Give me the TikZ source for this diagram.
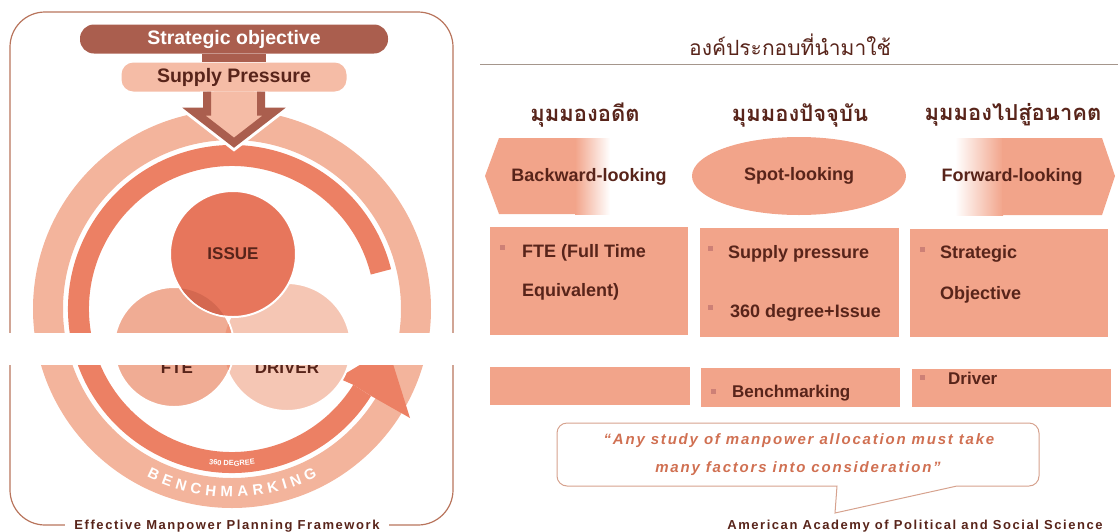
\documentclass[tikz,border=0pt]{standalone}
\usepackage{fontspec}
\usetikzlibrary{calc,shapes.geometric,decorations.text}
\setmainfont{Liberation Sans}
\newfontfamily\thaifont[Script=Thai]{Loma}
\newfontfamily\widefont[LetterSpace=12]{Liberation Sans}
\newfontfamily\spacedfont[LetterSpace=12]{Liberation Sans}
\definecolor{barbrown}{RGB}{170,94,78}
\definecolor{barpeach}{RGB}{245,188,166}
\definecolor{ringout}{RGB}{243,180,156}
\definecolor{ringin}{RGB}{236,128,100}
\definecolor{issuecol}{RGB}{231,118,92}
\definecolor{ftecol}{RGB}{240,172,148}
\definecolor{drivercol}{RGB}{245,198,180}
\definecolor{lenscol}{RGB}{238,150,122}
\definecolor{darklens}{RGB}{212,104,80}
\definecolor{salmon}{RGB}{242,164,138}
\definecolor{inkbrown}{RGB}{88,36,26}
\definecolor{quotecol}{RGB}{208,112,82}
\definecolor{bubblecol}{RGB}{214,162,142}
\definecolor{bulcol}{RGB}{205,128,118}
\definecolor{panelcol}{RGB}{184,116,92}
\definecolor{rulecol}{RGB}{165,150,140}
\def\cx{232}
\def\cy{309}
\newcommand{\bul}[2]{\fill[bulcol] (#1-2.5,#2-2.5) rectangle ++(5,5);}

\begin{document}
\begin{tikzpicture}[x=1pt,y=-1pt,
  barbox/.style={rounded corners=14, minimum height=29, inner sep=0pt, font=\fontsize{19.5}{19.5}\selectfont\bfseries},
  venn/.style={circle, inner sep=0pt, draw=white, line width=2},
  venntext/.style={font=\fontsize{17}{17}\selectfont\bfseries, text=inkbrown},
  looktext/.style={font=\fontsize{18}{18}\selectfont\bfseries, text=inkbrown},
  thaihead/.style={font=\thaifont\fontsize{22}{22}\selectfont\bfseries, text=inkbrown},
  cellbox/.style={fill=salmon, inner sep=0pt, anchor=north west},
  itemtext/.style={font=\fontsize{18}{18}\selectfont\bfseries, text=inkbrown, anchor=base west, inner sep=0pt},
  quotetext/.style={font=\widefont\fontsize{15}{15}\selectfont\bfseries\itshape, text=quotecol},
  foottext/.style={font=\spacedfont\fontsize{13}{13}\selectfont\bfseries, text=inkbrown},
]
\useasboundingbox (0,0) rectangle (1120,531);

% left panel
\draw[panelcol, line width=1.2, rounded corners=35] (10,12) rectangle (453,525);
\node[barbox, fill=barbrown, text=white, minimum width=308] (strat) at (234,39) {Strategic objective};
\node[barbox, fill=barpeach, text=inkbrown, minimum width=225, rounded corners=12] (supply) at (234,77) {Supply Pressure};
\fill[barbrown] ($(strat.south)+(-32,0)$) rectangle ($(supply.north)+(32,0)$);

\coordinate (c) at (\cx,\cy);
\draw[ringout, line width=30] (c) circle (184);
\draw[ringin, line width=21] ($(c)+(-14:153.5)$) arc[start angle=-14, end angle=-328, radius=153.5];
\fill[ringin] ($(c)+(-328:143)$) -- (338,378) -- (388,348) -- (410,418) -- ($(c)+(-328:164)$) -- cycle;
\path[decorate, decoration={text along path, text={|\fontsize{15}{15}\selectfont\bfseries\color{white}|BENCHMARKING}, text align={fit to path}}]
  ($(c)+(-243:188)$) arc[start angle=-243, end angle=-297, radius=188];
\path[decorate, decoration={text along path, text={|\fontsize{7.5}{7.5}\selectfont\bfseries\color{white}|360 DEGREE}, text align=center}]
  ($(c)+(-255:157)$) arc[start angle=-255, end angle=-285, radius=157];

\draw[white, line width=14, line join=miter] ($(supply.south)+(-27,0)$) -- ++(0,20) -- ++(-13,0) -- ($(supply.south)+(0,51)$) -- ($(supply.south)+(40,20)$) -- ++(-13,0) -- ($(supply.south)+(27,0)$);
\filldraw[fill=barpeach, draw=barbrown, line width=8, line join=miter] ($(supply.south)+(-27,0)$) -- ++(0,20) -- ++(-13,0) -- ($(supply.south)+(0,51)$) -- ($(supply.south)+(40,20)$) -- ++(-13,0) -- ($(supply.south)+(27,0)$);

\node[venn, fill=drivercol, minimum size=128] (driver) at (287,347) {};
\node[venn, fill=ftecol, minimum size=120] (fte) at (174,347) {};
\begin{scope}
  \clip (fte.center) circle (59);
  \fill[lenscol] (driver.center) circle (63);
\end{scope}
\node[venn, fill=issuecol, minimum size=126, venntext] (issue) at (233,254) {ISSUE};
\begin{scope}
  \clip (issue.center) circle (62);
  \fill[darklens] (fte.center) circle (59);
\end{scope}
\node[venntext] (ftetxt) at (177,368) {FTE};
\node[venntext] (drivertxt) at (287,368) {DRIVER};

\fill[white] (0,333) rectangle (462,365);
\node[foottext, fill=white, inner xsep=9, inner ysep=1] (frame) at (227,526) {Effective Manpower Planning Framework};

% right panel
\node[thaihead, font=\thaifont\fontsize{21}{21}\selectfont] (title) at (790,45) {องค์ประกอบที่นำมาใช้};
\draw[rulecol, line width=1] (480,64) -- (1118,64);
\node[thaihead] (hpast) at (585,115) {มุมมองอดีต};
\node[thaihead] (hnow) at (800,115) {มุมมองปัจจุบัน};
\node[thaihead] (hfut) at (1013,115) {มุมมองไปสู่อนาคต};

\fill[salmon] (499,138) -- (576,138) -- (576,214) -- (499,214) -- (485,176) -- cycle;
\shade[left color=salmon, right color=white] (575,138) rectangle (610,214);
\node[looktext] (back) at (589,177) {Backward-looking};
\node[ellipse, fill=salmon, minimum width=214, minimum height=78, inner sep=0pt, looktext] (spot) at (799,176) {Spot-looking};
\shade[left color=white, right color=salmon] (955,138) rectangle (1003,215);
\fill[salmon] (1002,138) -- (1102,138) -- (1115,176) -- (1102,215) -- (1002,215) -- cycle;
\node[looktext] (fwd) at (1012,177) {Forward-looking};

\node[cellbox, minimum width=198, minimum height=108] (pastA) at (490,227) {};
\node[cellbox, minimum width=199, minimum height=109] (nowA) at (700,228) {};
\node[cellbox, minimum width=198, minimum height=108] (futA) at (910,229) {};
\node[cellbox, minimum width=200, minimum height=38] (pastB) at (490,367) {};
\node[cellbox, minimum width=199, minimum height=39] (nowB) at (701,368) {};
\node[cellbox, minimum width=199, minimum height=38] (futB) at (912,369) {};

\bul{502}{247} \bul{710}{248} \bul{710}{307} \bul{922}{249} \bul{713}{391} \bul{922}{377}
\node[itemtext] (fte1) at (522,257) {FTE (Full Time};
\node[itemtext] (fte2) at (522,296) {Equivalent)};
\node[itemtext] (sup1) at (728,258) {Supply pressure};
\node[itemtext] (sup2) at (730,317) {360 degree+Issue};
\node[itemtext] (obj1) at (940,258) {Strategic};
\node[itemtext] (obj2) at (940,299) {Objective};
\node[itemtext, font=\fontsize{17}{17}\selectfont\bfseries] (bench) at (732,397) {Benchmarking};
\node[itemtext, font=\fontsize{17}{17}\selectfont\bfseries] (drv) at (948,384) {Driver};

\draw[bubblecol, line width=1] (837,486) [rounded corners=10] -- (557,486) -- (557,423) -- (1039,423) -- (1039,486) [sharp corners] -- (957,486) -- (835,513) -- cycle;
\node[quotetext] (q1) at (799,441) {“Any study of manpower allocation must take};
\node[quotetext] (q2) at (798,469) {many factors into consideration”};
\node[foottext, anchor=base] (src) at (915,529) {American Academy of Political and Social Science};
\end{tikzpicture}
\end{document}
